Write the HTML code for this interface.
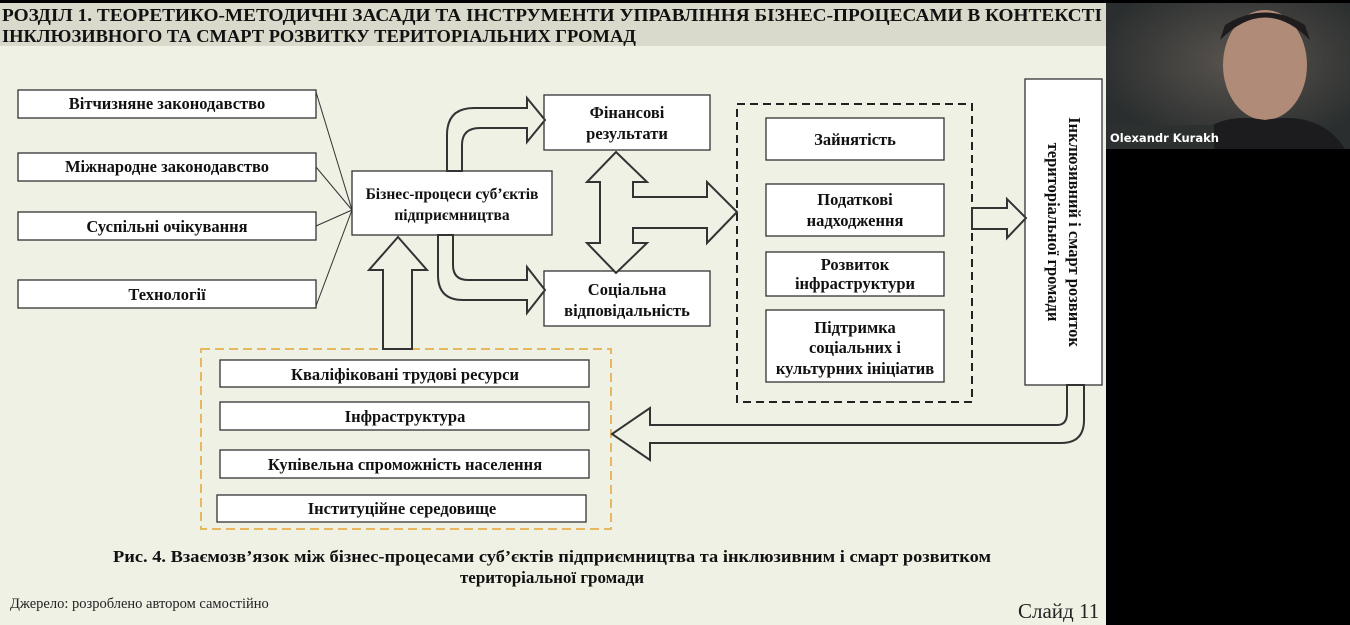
<!DOCTYPE html>
<html><head><meta charset="utf-8"><style>
html,body{margin:0;padding:0;width:1350px;height:625px;overflow:hidden;background:#000}
svg{display:block}
</style></head><body>
<svg width="1350" height="625" xmlns="http://www.w3.org/2000/svg" font-family="Liberation Serif, serif">
<rect x="0" y="0" width="1350" height="625" fill="#000"/>
<rect x="0" y="3" width="1106" height="622" fill="#eff1e5"/>
<rect x="0" y="3" width="1106" height="43" fill="#d9dacb"/>
<g font-weight="bold" font-size="18" fill="#111">
<text x="2" y="21" textLength="1100" lengthAdjust="spacingAndGlyphs">РОЗДІЛ 1. ТЕОРЕТИКО-МЕТОДИЧНІ ЗАСАДИ ТА ІНСТРУМЕНТИ УПРАВЛІННЯ БІЗНЕС-ПРОЦЕСАМИ В КОНТЕКСТІ</text>
<text x="2" y="42" textLength="634" lengthAdjust="spacingAndGlyphs">ІНКЛЮЗИВНОГО ТА СМАРТ РОЗВИТКУ ТЕРИТОРІАЛЬНИХ ГРОМАД</text>
</g>
<g fill="#fff" stroke="#333" stroke-width="1.3">
<rect x="18" y="90" width="298" height="28"/><rect x="18" y="153" width="298" height="28"/>
<rect x="18" y="212" width="298" height="28"/><rect x="18" y="280" width="298" height="28"/>
<rect x="352" y="171" width="200" height="64"/>
<rect x="544" y="95" width="166" height="55"/><rect x="544" y="271" width="166" height="55"/>
<rect x="766" y="118" width="178" height="42"/><rect x="766" y="184" width="178" height="52"/>
<rect x="766" y="252" width="178" height="44"/><rect x="766" y="310" width="178" height="72"/>
<rect x="1025" y="79" width="77" height="306"/>
<rect x="220" y="360" width="369" height="27"/><rect x="220" y="402" width="369" height="28"/>
<rect x="220" y="450" width="369" height="28"/><rect x="217" y="495" width="369" height="27"/>
</g>
<rect x="737" y="104" width="235" height="298" fill="none" stroke="#222" stroke-width="2" stroke-dasharray="8,5"/>
<rect x="201" y="349" width="410" height="180" fill="none" stroke="#e8b860" stroke-width="2" stroke-dasharray="9,5"/>
<g stroke="#333" stroke-width="1">
<line x1="316" y1="92" x2="352" y2="210"/><line x1="316" y1="167" x2="352" y2="210"/>
<line x1="316" y1="226" x2="352" y2="210"/><line x1="316" y1="306" x2="352" y2="210"/>
</g>
<g fill="#eff1e5" stroke="#333" stroke-width="2" stroke-linejoin="miter">
<path d="M383,349 L383,270 L369,270 L398,237 L427,270 L412,270 L412,349 Z"/>
<path d="M447,171 L447,135 Q447,108 474,108 L527,108 L527,98 L545,120 L527,142 L527,128 L480,128 Q462,128 462,145 L462,171 Z"/>
<path d="M438,235 L438,275 Q438,300 463,300 L527,300 L527,313 L545,290 L527,267 L527,280 L468,280 Q453,280 453,265 L453,235 Z"/>
<path d="M616,152 L647,182 L633,182 L633,197 L707,197 L707,182 L737,212 L707,243 L707,228 L633,228 L633,243 L647,243 L616,273 L587,243 L600,243 L600,182 L587,182 Z"/>
<path d="M972,208 L1007,208 L1007,199 L1026,218 L1007,238 L1007,229 L972,229 Z"/>
<path d="M1084,385 L1084,420 Q1084,443 1061,443 L650,443 L650,460 L612,434 L650,408 L650,425 L1057,425 Q1067,425 1067,413 L1067,385 Z"/>
</g>
<g font-weight="bold" font-size="16.5" fill="#111" text-anchor="middle">
<text x="167" y="109">Вітчизняне законодавство</text>
<text x="167" y="172">Міжнародне законодавство</text>
<text x="167" y="232">Суспільні очікування</text>
<text x="167" y="300">Технології</text>
<text x="452" y="199" font-size="15.5">Бізнес-процеси суб’єктів</text>
<text x="452" y="220" font-size="15.5">підприємництва</text>
<text x="627" y="118">Фінансові</text><text x="627" y="139">результати</text>
<text x="627" y="295">Соціальна</text><text x="627" y="316">відповідальність</text>
<text x="855" y="145">Зайнятість</text>
<text x="855" y="205">Податкові</text><text x="855" y="226">надходження</text>
<text x="855" y="270">Розвиток</text><text x="855" y="289">інфраструктури</text>
<text x="855" y="333">Підтримка</text><text x="855" y="353">соціальних і</text><text x="855" y="374">культурних ініціатив</text>
<text x="405" y="380">Кваліфіковані трудові ресурси</text>
<text x="405" y="422">Інфраструктура</text>
<text x="405" y="470">Купівельна спроможність населення</text>
<text x="402" y="514">Інституційне середовище</text>
<text transform="translate(1069,232) rotate(90)" y="0">Інклюзивний і смарт розвиток</text>
<text transform="translate(1048,232) rotate(90)" y="0">територіальної громади</text>
<text x="552" y="562" font-size="17" textLength="878" lengthAdjust="spacingAndGlyphs">Рис. 4. Взаємозв’язок між бізнес-процесами суб’єктів підприємництва та інклюзивним і смарт розвитком</text>
<text x="552" y="583" font-size="17">територіальної громади</text>
</g>
<text x="10" y="608" font-size="14.5" fill="#222">Джерело: розроблено автором самостійно</text>
<text x="1018" y="618" font-size="21" fill="#222">Слайд 11</text>
<defs><radialGradient id="g" cx="0.55" cy="0.4" r="0.6"><stop offset="0" stop-color="#5a5550"/><stop offset="1" stop-color="#2a2e2e"/></radialGradient></defs>
<rect x="1106" y="3" width="244" height="146" fill="url(#g)"/>
<ellipse cx="1265" cy="65" rx="42" ry="55" fill="#b08b78"/>
<path d="M1220,40 Q1265,-5 1310,40 L1305,25 Q1265,0 1225,25 Z" fill="#1e1c1c"/>
<path d="M1190,149 Q1210,110 1265,120 Q1320,110 1345,149 Z" fill="#1c1c1e"/>
<rect x="1106" y="125" width="108" height="24" fill="#2c302f"/>
<text x="1110" y="142" font-family="DejaVu Sans, sans-serif" font-size="11.5" font-weight="bold" fill="#fff">Olexandr Kurakh</text>
</svg>
</body></html>
